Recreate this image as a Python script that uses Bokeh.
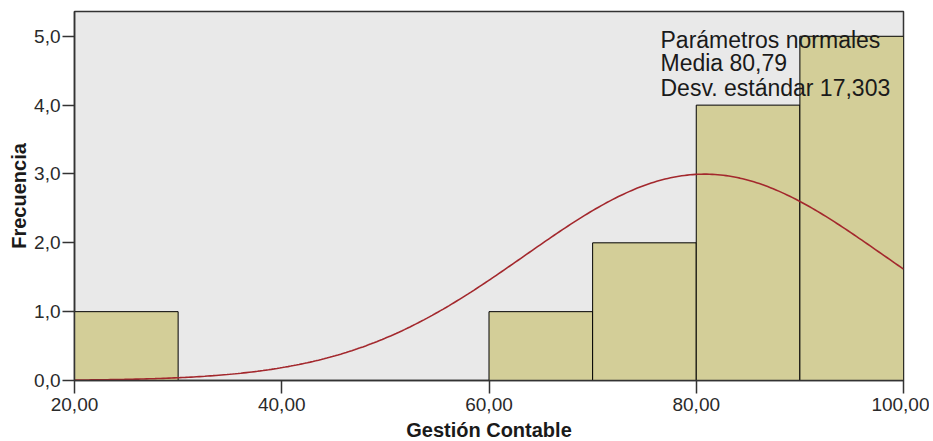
import numpy as np
from bokeh.plotting import figure
from bokeh.models import FixedTicker, Label, Range1d
from bokeh.embed import file_html
from bokeh.resources import INLINE

# ---- data ----
bin_left = [20, 60, 70, 80, 90]
bin_right = [30, 70, 80, 90, 100]
counts = [1, 1, 2, 4, 5]
mean = 80.79
std_dev = 17.303
n_total = 13
bin_width = 10
x_ticks = [20, 40, 60, 80, 100]
x_tick_labels = ["20,00", "40,00", "60,00", "80,00", "100,00"]
y_ticks = [0, 1, 2, 3, 4, 5]
y_tick_labels = ["0,0", "1,0", "2,0", "3,0", "4,0", "5,0"]
legend_lines = ["Parámetros normales", "Media 80,79", "Desv. estándar 17,303"]

FONT = "Liberation Sans"

p = figure(frame_width=829, frame_height=369, output_backend="svg", toolbar_location=None,
           x_range=Range1d(20, 100), y_range=Range1d(0, 5.36),
           min_border_left=74, min_border_right=26, min_border_top=11, min_border_bottom=0)
p.background_fill_color = "#e9e9e9"
p.border_fill_color = "white"
p.outline_line_color = "#333333"
p.outline_line_width = 1.5
p.grid.visible = False

p.quad(left=bin_left, right=bin_right, bottom=0, top=counts,
       fill_color="#d3ce98", line_color="black", line_width=1)

# normal curve defined by the stated parameters
cx = np.linspace(20, 100, 300)
cy = n_total * bin_width / (std_dev * np.sqrt(2 * np.pi)) * np.exp(-0.5 * ((cx - mean) / std_dev) ** 2)
p.line(cx, cy, line_color="#a3282d", line_width=1.6)

for txt, yy in zip(legend_lines, [4.94, 4.605, 4.255]):
    p.add_layout(Label(x=76.55, y=yy, text=txt, text_font=FONT, text_font_size="23px",
                       text_color="#1a1a1a", text_baseline="alphabetic"))

for ax in (p.xaxis[0], p.yaxis[0]):
    ax.axis_line_color = "#333333"
    ax.axis_line_width = 1.5
    ax.major_tick_line_color = "#333333"
    ax.major_tick_line_width = 1.5
    ax.minor_tick_line_color = None
    ax.major_tick_in = 0
    ax.major_label_text_font = FONT
    ax.major_label_text_font_size = "19px"
    ax.major_label_text_color = "#2a2a2a"
    ax.axis_label_text_font = FONT
    ax.axis_label_text_font_size = "20px"
    ax.axis_label_text_font_style = "bold"
    ax.axis_label_text_color = "#1a1a1a"

p.xaxis.ticker = FixedTicker(ticks=x_ticks)
p.xaxis.major_label_overrides = dict(zip(x_ticks, x_tick_labels))
p.xaxis.major_tick_out = 13
p.xaxis.major_label_standoff = 4
p.xaxis.axis_label = "Gestión Contable"
p.xaxis.axis_label_standoff = 5

p.yaxis.ticker = FixedTicker(ticks=y_ticks)
p.yaxis.major_label_overrides = dict(zip(y_ticks, y_tick_labels))
p.yaxis.major_tick_out = 12
p.yaxis.major_label_standoff = 2
p.yaxis.axis_label = "Frecuencia"
p.yaxis.axis_label_standoff = 1

open("out.html", "w").write(file_html(p, INLINE))
